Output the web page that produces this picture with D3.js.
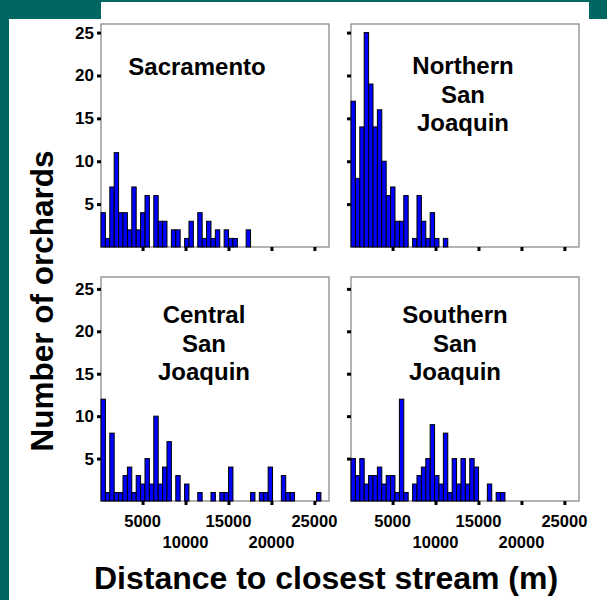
<!DOCTYPE html>
<html>
<head>
<meta charset="utf-8">
<script src="https://cdn.jsdelivr.net/npm/d3@7"></script>
<style>
  html, body { margin: 0; padding: 0; background: #fff; }
  svg { display: block; font-family: "Liberation Sans", Arial, sans-serif; }
</style>
</head>
<body>
<div id="chart"></div>
<script>
// counts per 512 m bin, starting at 160 m
const binStart = 160;
const binWidth = 512;
const sacramento = [4, 1, 7, 11, 4, 4, 2, 7, 2, 4, 6, 0, 6, 3, 3, 0, 2, 2, 0, 1, 3, 0, 4, 1, 3, 1, 2, 0, 2, 1, 1, 0, 0, 2];
const northernSJ = [17, 8, 14, 25, 19, 14, 16, 10, 6, 7, 3, 3, 6, 0, 1, 6, 3, 1, 4, 1, 0, 1];
const centralSJ = [12, 1, 8, 1, 1, 3, 4, 1, 3, 2, 5, 2, 10, 2, 4, 7, 0, 3, 0, 2, 0, 0, 1, 0, 0, 1, 0, 1, 1, 4,
  0, 0, 0, 0, 1, 0, 1, 1, 4, 0, 0, 3, 1, 1, 0, 0, 0, 0, 0, 1];
const southernSJ = [5, 3, 5, 2, 3, 3, 4, 2, 3, 3, 1, 12, 1, 0, 2, 3, 4, 5, 9, 3, 2, 8, 1, 5, 2, 5, 2, 5, 4, 0, 0, 2, 0, 1, 1];

const xTicks = [5000, 10000, 15000, 20000, 25000];
const yTicks = [5, 10, 15, 20, 25];

const width = 607, height = 600;
const teal = "#006661";

const svg = d3.select("#chart").append("svg")
  .attr("width", width)
  .attr("height", height);

// teal frame pieces
svg.append("rect").attr("x", 0).attr("y", 0).attr("width", width).attr("height", 2).attr("fill", teal);
svg.append("rect").attr("x", 0).attr("y", 0).attr("width", 101).attr("height", 19).attr("fill", teal);
svg.append("rect").attr("x", 589).attr("y", 0).attr("width", 18).attr("height", 19).attr("fill", teal);
svg.append("rect").attr("x", 0).attr("y", 0).attr("width", 9).attr("height", height).attr("fill", teal);

const panels = [
  { name: ["Sacramento"], data: sacramento, x: 101, y: 24, h: 223, ymax: 26, tx: 96, ty: 51, yLabels: true, xLabels: false },
  { name: ["Northern", "San", "Joaquin"], data: northernSJ, x: 351, y: 24, h: 223, ymax: 26, tx: 112, ty: 50, yLabels: false, xLabels: false },
  { name: ["Central", "San", "Joaquin"], data: centralSJ, x: 101, y: 277, h: 224, ymax: 26.4, tx: 103, ty: 46, yLabels: true, xLabels: true },
  { name: ["Southern", "San", "Joaquin"], data: southernSJ, x: 351, y: 277, h: 224, ymax: 26.4, tx: 104, ty: 46, yLabels: false, xLabels: true }
];
const pw = 228;

panels.forEach(p => {
  const g = svg.append("g").attr("transform", `translate(${p.x},${p.y})`);

  const x = d3.scaleLinear().domain([binStart, 26700]).range([0, pw]);
  const y = d3.scaleLinear().domain([0, p.ymax]).range([p.h, 0]);

  // frame
  g.append("rect")
    .attr("x", 0).attr("y", 0)
    .attr("width", pw).attr("height", p.h)
    .attr("fill", "none")
    .attr("stroke", "#808080")
    .attr("stroke-width", 1.2);

  // bars
  const bins = p.data.map((v, i) => ({ x0: binStart + i * binWidth, x1: binStart + (i + 1) * binWidth, v }));
  g.append("g")
    .selectAll("rect")
    .data(bins.filter(d => d.v > 0))
    .join("rect")
    .attr("x", d => x(d.x0))
    .attr("y", d => y(d.v))
    .attr("width", d => x(d.x1) - x(d.x0))
    .attr("height", d => y(0) - y(d.v))
    .attr("fill", "#0000ff")
    .attr("stroke", "#000")
    .attr("stroke-width", 1);

  // y axis ticks
  const yAxis = d3.axisLeft(y).tickValues(yTicks).tickSize(4).tickPadding(3)
    .tickFormat(p.yLabels ? d3.format("d") : () => "");
  g.append("g").call(yAxis).call(a => {
    a.select(".domain").remove();
    a.selectAll("line").attr("stroke", "#000").attr("stroke-width", 3);
    a.selectAll("text").attr("font-size", 17).attr("font-weight", "bold").attr("fill", "#000");
  });

  // x axis ticks (straddling the baseline)
  const xAxis = d3.axisBottom(x).tickValues(xTicks).tickSize(4).tickFormat(() => "");
  g.append("g").attr("transform", `translate(0,${p.h})`).call(xAxis).call(a => {
    a.select(".domain").remove();
    a.selectAll("line").attr("stroke", "#000").attr("stroke-width", 3);
  });

  if (p.xLabels) {
    g.append("g")
      .selectAll("text")
      .data(xTicks)
      .join("text")
      .attr("x", d => x(d))
      .attr("y", (d, i) => p.h + (i % 2 === 0 ? 26 : 47))
      .attr("text-anchor", "middle")
      .attr("font-size", 16.5)
      .attr("font-weight", "bold")
      .text(d => d);
  }

  // panel title
  const t = g.append("text")
    .attr("text-anchor", "middle")
    .attr("font-size", 24)
    .attr("font-weight", "bold")
    .attr("fill", "#000");
  p.name.forEach((line, i) => {
    t.append("tspan").attr("x", p.tx).attr("y", p.ty + i * 28.5).text(line);
  });
});

// axis titles
svg.append("text")
  .attr("transform", "translate(53,301) rotate(-90)")
  .attr("text-anchor", "middle")
  .attr("font-size", 31.5)
  .attr("font-weight", "bold")
  .text("Number of orchards");

svg.append("text")
  .attr("x", 326)
  .attr("y", 589)
  .attr("text-anchor", "middle")
  .attr("font-size", 32)
  .attr("font-weight", "bold")
  .text("Distance to closest stream (m)");
</script>
</body>
</html>
